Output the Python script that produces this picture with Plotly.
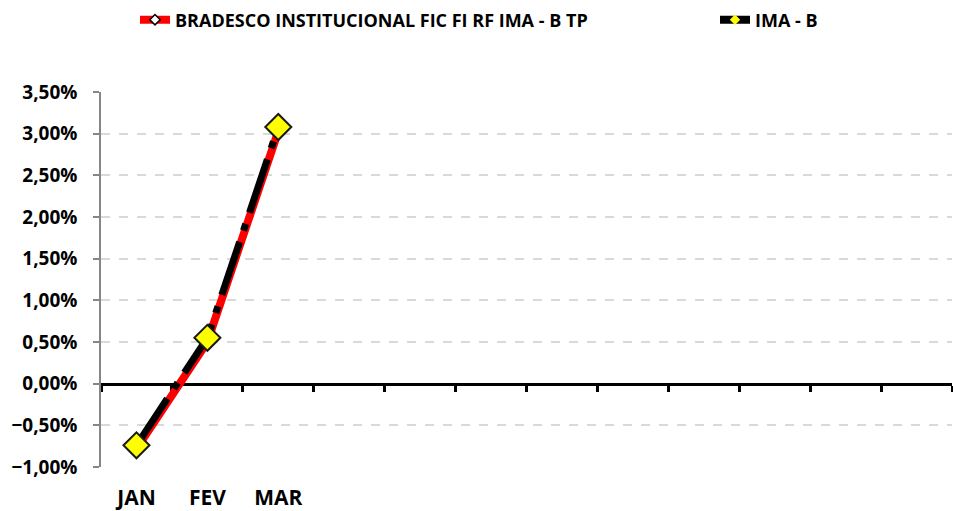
import plotly.graph_objects as go

months = ["JAN", "FEV", "MAR"]
slots = 12
fundo_name = "BRADESCO INSTITUCIONAL FIC FI RF IMA - B TP"
fundo_vals = [-0.0078, 0.0050, 0.0303]
imab_name = "IMA - B"
imab_vals = [-0.0074, 0.0055, 0.0308]
y_ticks = [-0.01, -0.005, 0, 0.005, 0.01, 0.015, 0.02, 0.025, 0.03, 0.035]

FONT = "Open Sans"
W, H = 953, 511
xpos = list(range(len(months)))

fig = go.Figure()
fig.add_trace(go.Scatter(
    x=xpos, y=fundo_vals, mode="lines+markers", name=fundo_name, showlegend=False,
    line=dict(color="#FF0000", width=8),
    marker=dict(symbol="diamond", size=8, color="white", line=dict(color="black", width=1.5)),
))
fig.add_trace(go.Scatter(
    x=xpos, y=imab_vals, mode="lines+markers", name=imab_name, showlegend=False,
    line=dict(color="black", width=7, dash="56px,12px,7px,12px"),
    marker=dict(symbol="diamond", size=20, color="#FFFF00", line=dict(color="#1a1a1a", width=2)),
))
# legend entries (no data points)
fig.add_trace(go.Scatter(
    x=[None], y=[None], xaxis="x2", mode="lines+markers", name=fundo_name, legend="legend",
    line=dict(color="#FF0000", width=8),
    marker=dict(symbol="diamond", size=8, color="white", line=dict(color="black", width=1.5)),
))
fig.add_trace(go.Scatter(
    x=[None], y=[None], xaxis="x2", mode="lines+markers", name=imab_name, legend="legend2",
    line=dict(color="black", width=8),
    marker=dict(symbol="diamond", size=8, color="#FFFF00", line=dict(color="#FFFF00", width=0)),
))

legfont = dict(family=FONT, size=18, color="black", weight="bold")
xr = [-0.5, slots - 0.5]
fig.update_layout(
    width=W, height=H,
    margin=dict(l=101, r=1, t=92, b=44),
    paper_bgcolor="white", plot_bgcolor="white",
    separators=",.",
    font=dict(family=FONT, color="black"),
    showlegend=True,
    legend=dict(orientation="h", xref="container", yref="container",
                x=(180 - 45) / W, xanchor="left", y=1 - 20 / H, yanchor="middle",
                font=legfont, bgcolor="rgba(0,0,0,0)"),
    legend2=dict(orientation="h", xref="container", yref="container",
                 x=(760 - 45) / W, xanchor="left", y=1 - 20 / H, yanchor="middle",
                 font=legfont, bgcolor="rgba(0,0,0,0)"),
    xaxis=dict(range=xr, tickvals=xpos, ticktext=months, showgrid=False, zeroline=False,
               showline=False, ticks="", ticklabelstandoff=16, automargin=False,
               tickfont=dict(family=FONT, size=21, color="black", weight="bold")),
    xaxis2=dict(overlaying="x", anchor="free", position=1 / 4.5, range=xr,
                showline=True, linecolor="black", linewidth=3, layer="below traces",
                tickvals=[i - 0.5 for i in range(slots + 1)], showticklabels=False,
                ticks="outside", ticklen=6, tickwidth=3, tickcolor="black",
                showgrid=False, zeroline=False, automargin=False),
    yaxis=dict(range=[-0.01, 0.035], tickvals=y_ticks, tickformat=".2%",
               showgrid=True, gridcolor="#D9D9D9", gridwidth=1.5, griddash="dash",
               zeroline=False, showline=True, linecolor="#868686", linewidth=1.5,
               ticks="outside", ticklen=6, tickcolor="#868686", tickwidth=1.5,
               ticklabelstandoff=12, automargin=False,
               tickfont=dict(family=FONT, size=19, color="black", weight="bold")),
)
fig.write_html("out.html", config={"displayModeBar": False},
               post_script="document.body.style.margin='0';")
